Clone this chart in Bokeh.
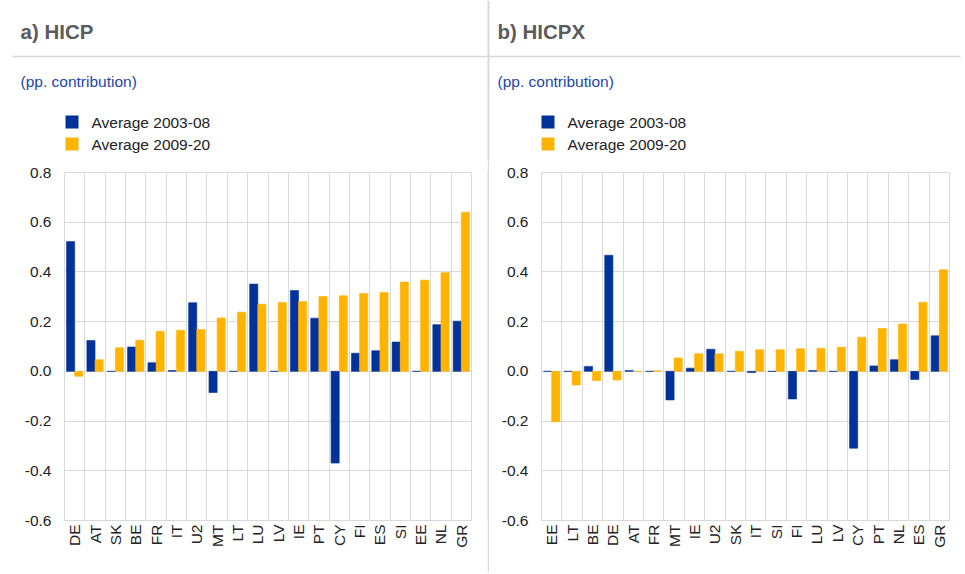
import math
from bokeh.plotting import figure
from bokeh.models import (FactorRange, FixedTicker, Range1d, NumeralTickFormatter,
                          ColumnDataSource)
from bokeh.transform import dodge
from bokeh.layouts import row, column
from bokeh.embed import file_html
from bokeh.resources import INLINE
from bokeh.core.properties import value

# ---- data ----
countries_a = ["DE", "AT", "SK", "BE", "FR", "IT", "U2", "MT", "LT", "LU",
               "LV", "IE", "PT", "CY", "FI", "ES", "SI", "EE", "NL", "GR"]
avg_2003_08_a = [0.522, 0.124, 0.0, 0.098, 0.035, 0.003, 0.276, -0.085, 0.0, 0.351,
                 0.0, 0.325, 0.214, -0.369, 0.073, 0.083, 0.118, 0.0, 0.188, 0.202]
avg_2009_20_a = [-0.020, 0.047, 0.095, 0.125, 0.161, 0.165, 0.168, 0.215, 0.238, 0.270,
                 0.277, 0.281, 0.301, 0.304, 0.313, 0.317, 0.359, 0.367, 0.397, 0.640]

countries_b = ["EE", "LT", "BE", "DE", "AT", "FR", "MT", "IE", "U2", "SK",
               "IT", "SI", "FI", "LU", "LV", "CY", "PT", "NL", "ES", "GR"]
avg_2003_08_b = [0.0, 0.0, 0.020, 0.467, 0.003, 0.0, -0.115, 0.013, 0.089, 0.0,
                 -0.005, 0.0, -0.111, 0.003, 0.0, -0.309, 0.022, 0.047, -0.033, 0.143]
avg_2009_20_b = [-0.203, -0.055, -0.037, -0.035, 0.0, 0.002, 0.054, 0.071, 0.071, 0.081,
                 0.087, 0.087, 0.091, 0.093, 0.097, 0.137, 0.172, 0.191, 0.278, 0.409]

panel_titles = ["a) HICP", "b) HICPX"]
unit_label = "(pp. contribution)"
series_names = ["Average 2003-08", "Average 2009-20"]
y_ticks = [-0.6, -0.4, -0.2, 0.0, 0.2, 0.4, 0.6, 0.8]

BLUE = "#003299"
YELLOW = "#FFB400"
GRID = "#d9d9d9"
FONT = "Liberation Sans"
FS = "15.5px"
HEAD_H = 160
CHART_H = 412
W_A, W_SEP, W_B = 487, 2, 475
W_ALL = W_A + W_SEP + W_B

# ---- header (titles, unit label, legend, separators) ----
head = figure(width=W_ALL, height=HEAD_H, x_range=Range1d(0, W_ALL), y_range=Range1d(HEAD_H, 0),
              output_backend="svg", toolbar_location=None, x_axis_location=None,
              y_axis_location=None, min_border=0)
head.grid.visible = False
head.outline_line_color = None
head.background_fill_color = "white"
head.border_fill_color = "white"

x0s = [0, W_A + W_SEP]
title_dx = [20, 8]
sq_dx = [65, 52]
head.quad(left=[12], right=[W_ALL - 4], top=[55.2], bottom=[56.8], fill_color=GRID, line_color=None)
head.quad(left=[W_A], right=[W_A + W_SEP], top=[0], bottom=[HEAD_H], fill_color=GRID, line_color=None)
for i in range(2):
    tx = x0s[i] + title_dx[i]
    head.text(x=[tx], y=[31], text=[panel_titles[i]], text_font=value(FONT),
              text_font_size=value("20.5px"), text_font_style=value("bold"),
              text_color="#5b5b5b", text_baseline=value("middle"))
    head.text(x=[tx], y=[81], text=[unit_label], text_font=value(FONT),
              text_font_size=value(FS), text_color="#2146a8", text_baseline=value("middle"))
    sx = x0s[i] + sq_dx[i]
    head.quad(left=[sx, sx], right=[sx + 13, sx + 13], top=[115, 137], bottom=[128, 150],
              fill_color=[BLUE, YELLOW], line_color=None)
    head.text(x=[sx + 26, sx + 26], y=[122, 144], text=series_names, text_font=value(FONT),
              text_font_size=value(FS), text_color="#222222", text_baseline=value("middle"))


def make_chart(cats, s1, s2, width, bl, br):
    src = ColumnDataSource(dict(cat=cats, s1=s1, s2=s2))
    p = figure(x_range=FactorRange(*cats, range_padding=0), y_range=Range1d(-0.6, 0.8),
               width=width, height=CHART_H, output_backend="svg", toolbar_location=None,
               min_border_left=bl, min_border_right=br, min_border_top=12,
               min_border_bottom=52)
    p.background_fill_color = "white"
    p.border_fill_color = "white"
    p.outline_line_color = GRID
    p.outline_line_width = 1

    p.vbar(x=dodge("cat", -0.2, range=p.x_range), top="s1", width=0.4, source=src,
           fill_color=BLUE, line_color=BLUE, line_width=0.6)
    p.vbar(x=dodge("cat", 0.2, range=p.x_range), top="s2", width=0.4, source=src,
           fill_color=YELLOW, line_color=YELLOW, line_width=0.6)

    p.xgrid.ticker = FixedTicker(ticks=list(range(len(cats) + 1)))
    p.xgrid.grid_line_color = GRID
    p.ygrid.grid_line_color = GRID
    p.yaxis.ticker = FixedTicker(ticks=y_ticks)
    p.yaxis.formatter = NumeralTickFormatter(format="0.0")
    for ax in (p.xaxis, p.yaxis):
        ax.axis_line_color = None
        ax.major_tick_line_color = None
        ax.minor_tick_line_color = None
        ax.major_label_text_font = FONT
        ax.major_label_text_font_size = FS
        ax.major_label_text_color = "#222222"
    p.xaxis.major_label_orientation = math.pi / 2
    p.xaxis.major_label_standoff = -2
    p.yaxis.major_label_standoff = 7
    return p


chart_a = make_chart(countries_a, avg_2003_08_a, avg_2009_20_a, W_A, 64, 16)
chart_b = make_chart(countries_b, avg_2003_08_b, avg_2009_20_b, W_B, 52, 15)

sep = figure(width=W_SEP, height=CHART_H, x_range=Range1d(0, 1), y_range=Range1d(0, 1),
             output_backend="svg", toolbar_location=None, x_axis_location=None,
             y_axis_location=None, min_border=0)
sep.grid.visible = False
sep.outline_line_color = None
sep.background_fill_color = GRID
sep.border_fill_color = GRID

layout = column(head, row(chart_a, sep, chart_b, spacing=0), spacing=0)
open("out.html", "w").write(file_html(layout, INLINE))
